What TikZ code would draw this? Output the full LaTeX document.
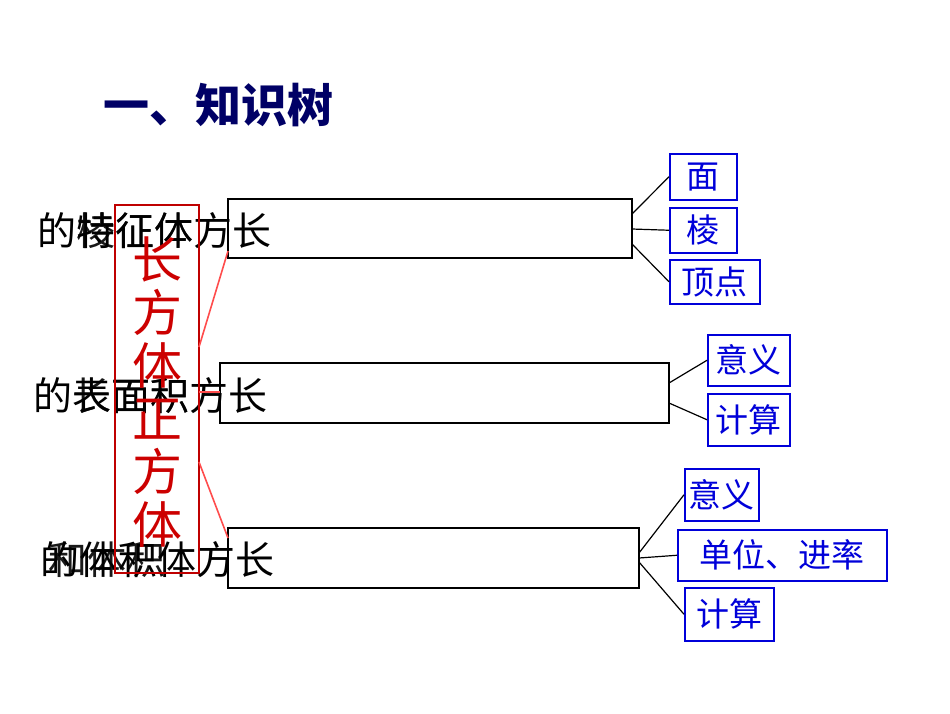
\documentclass[tikz,border=0pt]{standalone}
\usepackage{fontspec}
\newfontfamily\cjk{Noto Sans CJK SC}
\begin{document}
\begin{tikzpicture}[x=1pt,y=-1pt,
  bbox/.style={draw=black,line width=1.5pt},
  leaf/.style={draw=blue!85!black,line width=1.5pt,text=blue!85!black,font=\cjk\fontsize{33}{35}\selectfont,inner sep=2pt,anchor=north west},
  lab/.style={font=\cjk\fontsize{39}{41}\selectfont,anchor=west,inner sep=0},
  con/.style={black,line width=1.2pt},
  rcon/.style={red!70,line width=1.6pt}]
\useasboundingbox (0,0) rectangle (950,713);
\node[font=\cjk\fontsize{46}{48}\selectfont\bfseries,text=blue!40!black,anchor=west,inner sep=0] (title) at (103,105) {一、知识树};
% main boxes
\draw[bbox] (228,199) rectangle (632,258);
\draw[bbox] (220,363) rectangle (669,423);
\draw[bbox] (228,528) rectangle (639,588);
\coordinate (b1) at (632,229); \coordinate (b2) at (669,393); \coordinate (b3) at (639,558);
% left labels (overlapping as printed)
\node[lab] (l1a) at (37,231) {的特征体方长};
\node[lab,opacity=.9] (l1b) at (76,231) {棱征体};
\node[lab] (l2a) at (33,396) {的表面积方长};
\node[lab,opacity=.9] (l2b) at (72,396) {长面积};
\node[lab] (l3a) at (40,560) {的体积体方长};
\node[lab,opacity=.9] (l3b) at (48,560) {和体积};
% red box
\draw[red!75!black,line width=2.6pt] (115,205) rectangle (199,573);
\node[text=red!80!black,font=\cjk\fontsize{50}{53}\selectfont,align=center,inner sep=0] (red) at (157,392) {长\\方\\体\\正\\方\\体};
\draw[rcon] (199,347) -- (228,251);
\draw[rcon] (199,392) -- (220,392);
\draw[rcon] (199,462) -- (228,538);
% leaves
\node[leaf,minimum width=67pt,minimum height=46pt] (f1) at (669,153) {面};
\node[leaf,minimum width=67pt,minimum height=45pt] (f2) at (669,207) {棱};
\node[leaf,minimum width=90pt,minimum height=44pt] (f3) at (669,259) {顶点};
\node[leaf,minimum width=82pt,minimum height=51pt] (g1) at (707,334) {意义};
\node[leaf,minimum width=82pt,minimum height=52pt] (g2) at (707,393) {计算};
\node[leaf,minimum width=74pt,minimum height=52pt] (h1) at (684,468) {意义};
\node[leaf,minimum width=209pt,minimum height=51pt] (h2) at (677,529) {单位、进率};
\node[leaf,minimum width=89pt,minimum height=53pt] (h3) at (684,587) {计算};
\draw[con] (632,214) -- (f1.west);
\draw[con] (b1) -- (f2.west);
\draw[con] (632,244) -- (f3.west);
\draw[con] (669,383) -- (g1.west);
\draw[con] (669,403) -- (g2.west);
\draw[con] (639,553) -- (h1.west);
\draw[con] (b3) -- (h2.west);
\draw[con] (639,562) -- (h3.west);
\end{tikzpicture}
\end{document}
